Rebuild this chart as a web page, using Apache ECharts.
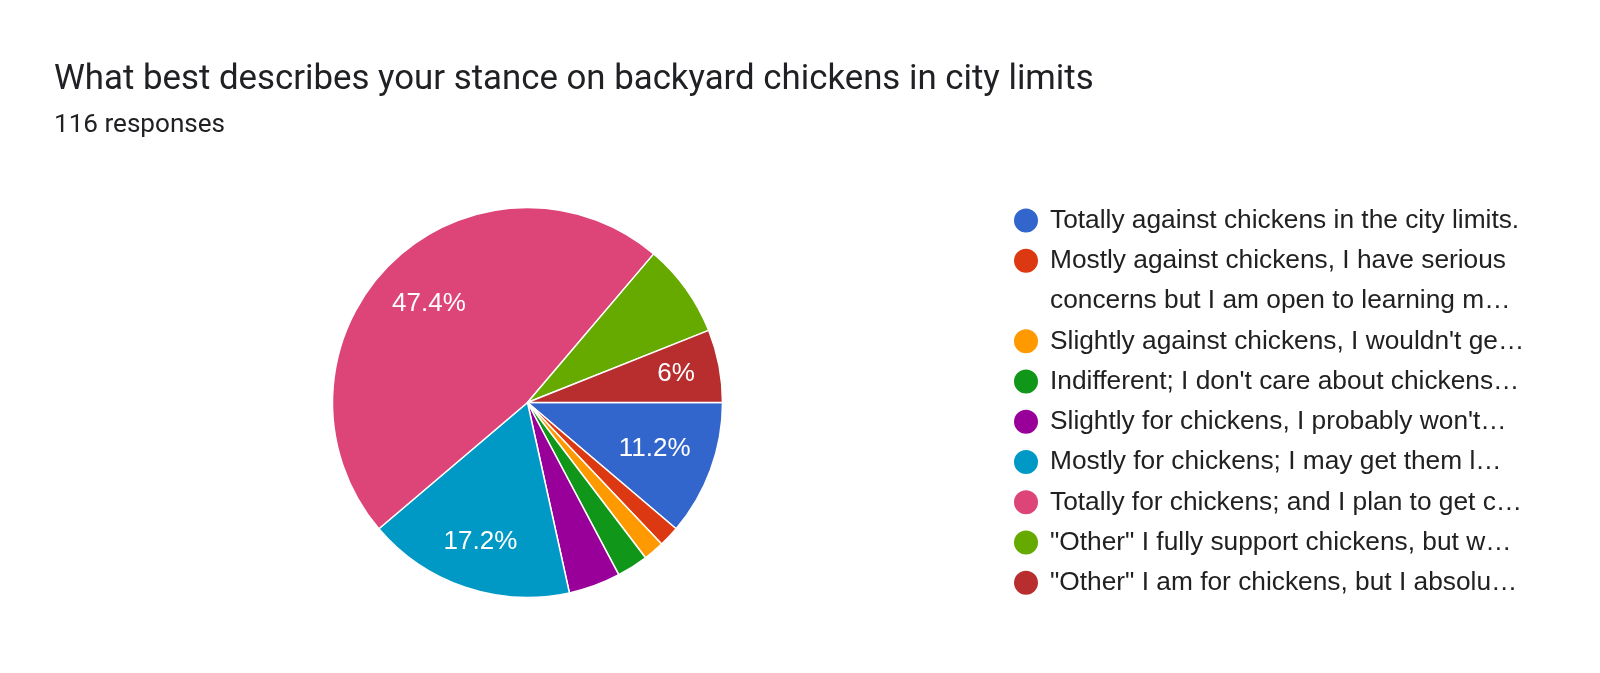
<!DOCTYPE html>
<html>
<head>
<meta charset="utf-8">
<script src="https://cdn.jsdelivr.net/npm/echarts@6/dist/echarts.min.js"></script>
<style>
html,body{margin:0;padding:0;background:#fff;}
#chart{width:1600px;height:673px;}
</style>
</head>
<body>
<div id="chart"></div>
<script>
const categories = [
  'Totally against chickens in the city limits.',
  'Mostly against chickens, I have serious concerns but I am open to learning m…',
  "Slightly against chickens, I wouldn't ge…",
  "Indifferent; I don't care about chickens…",
  "Slightly for chickens, I probably won't…",
  'Mostly for chickens; I may get them l…',
  'Totally for chickens; and I plan to get c…',
  '"Other" I fully support chickens, but w…',
  '"Other" I am for chickens, but I absolu…'
];
const legendText = [
  'Totally against chickens in the city limits.',
  'Mostly against chickens, I have serious',
  "Slightly against chickens, I wouldn't ge…",
  "Indifferent; I don't care about chickens…",
  "Slightly for chickens, I probably won't…",
  'Mostly for chickens; I may get them l…',
  'Totally for chickens; and I plan to get c…',
  '"Other" I fully support chickens, but w…',
  '"Other" I am for chickens, but I absolu…'
];
const legendSecondLine = 'concerns but I am open to learning m…';
const counts = [13, 2, 2, 3, 5, 20, 55, 9, 7];
const showPct = [true, false, false, false, false, true, true, false, true];
const colors = ['#3366cc', '#dc3912', '#ff9900', '#109618', '#990099', '#0099c6', '#dd4477', '#66aa00', '#b82e2e'];
const legendRows = [0, 1, 3, 4, 5, 6, 7, 8, 9];
const labelRadius = [0.68, 0.72, 0.72, 0.72, 0.72, 0.74, 0.70, 0.72, 0.76];

const total = counts.reduce((a, b) => a + b, 0);
const cx = 527.5, cy = 402.5, R = 195;
const baseRatio = 0.72;
const rowTop = 219.5, rowStep = 40.25, iconSize = 26;
const legendFont = { fontSize: 26.3, fontFamily: 'Liberation Sans', color: '#212121', padding: [0, 0, 0, 6] };

const chart = echarts.init(document.getElementById('chart'));

const legends = categories.map((name, i) => ({
  data: [name],
  orient: 'vertical',
  left: 1012,
  top: rowTop + legendRows[i] * rowStep - iconSize / 2,
  icon: 'circle',
  itemWidth: iconSize,
  itemHeight: iconSize,
  itemGap: 0,
  padding: 0,
  selectedMode: false,
  formatter: () => legendText[i],
  textStyle: legendFont
}));
legends.push({
  data: [categories[1]],
  orient: 'vertical',
  left: 1012,
  top: rowTop + 2 * rowStep - iconSize / 2,
  icon: 'circle',
  itemWidth: iconSize,
  itemHeight: iconSize,
  itemGap: 0,
  padding: 0,
  selectedMode: false,
  itemStyle: { opacity: 0 },
  formatter: () => legendSecondLine,
  textStyle: legendFont
});

const option = {
  animation: false,
  color: colors,
  title: [
    { text: 'What best describes your stance on backyard chickens in city limits', left: 49, top: 58,
      textStyle: { fontFamily: 'Roboto', fontSize: 34.8, fontWeight: 'normal', color: '#202124' } },
    { text: '116 responses', left: 49, top: 107.5,
      textStyle: { fontFamily: 'Roboto', fontSize: 26.1, fontWeight: 'normal', color: '#202124' } }
  ],
  legend: legends,
  series: [
    {
      type: 'pie',
      center: [cx, cy],
      radius: [0, R],
      startAngle: 0,
      clockwise: true,
      label: { show: false },
      labelLine: { show: false },
      itemStyle: { borderColor: '#ffffff', borderWidth: 1.5 },
      data: categories.map((n, i) => ({ name: n, value: counts[i] }))
    },
    {
      type: 'pie',
      center: [cx, cy],
      radius: [R * (2 * baseRatio - 1), R],
      startAngle: 0,
      clockwise: true,
      silent: true,
      itemStyle: { color: 'rgba(0,0,0,0)', borderWidth: 0 },
      labelLine: { show: false },
      label: {
        position: 'inside',
        color: '#ffffff',
        fontFamily: 'Liberation Sans',
        fontSize: 26,
        formatter: p => (+(p.value / total * 100).toFixed(1)) + '%'
      },
      labelLayout: p => {
        const r = p.labelRect;
        const lx = r.x + r.width / 2, ly = r.y + r.height / 2;
        const k = labelRadius[p.dataIndex] / baseRatio - 1;
        return { dx: (lx - cx) * k, dy: (ly - cy) * k };
      },
      data: categories.map((n, i) => ({ name: n, value: counts[i], label: { show: showPct[i] } }))
    }
  ]
};
chart.setOption(option);
</script>
</body>
</html>
